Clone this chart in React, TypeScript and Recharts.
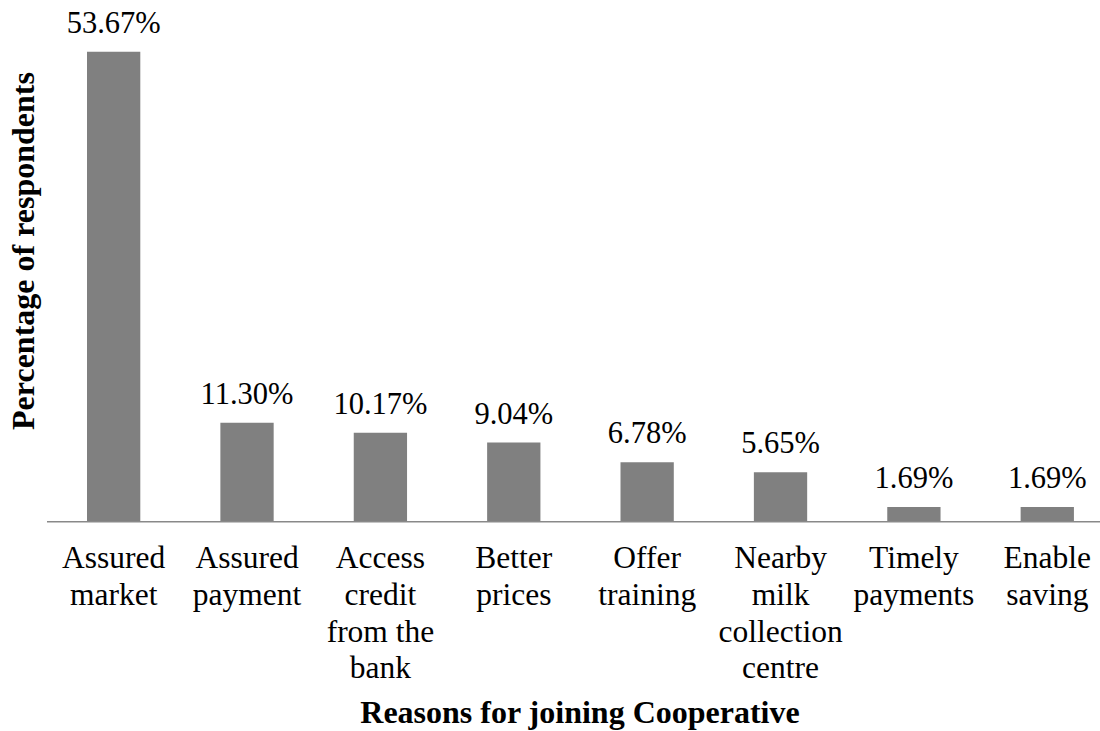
import React from 'react';
import { BarChart, Bar, XAxis, YAxis, LabelList } from 'recharts';

const categories = [
  'Assured market',
  'Assured payment',
  'Access credit from the bank',
  'Better prices',
  'Offer training',
  'Nearby milk collection centre',
  'Timely payments',
  'Enable saving',
];
const percentages = [53.67, 11.3, 10.17, 9.04, 6.78, 5.65, 1.69, 1.69];
const yDomain = [0, 55];

const xTitle = 'Reasons for joining Cooperative';
const yTitle = 'Percentage of respondents';

const FONT = 'Liberation Serif';
const tickStyle = { fontFamily: FONT, fontSize: 31.5, fontWeight: 400, fill: '#000' };
const valueStyle = { fontFamily: FONT, fontSize: 30.5, fontWeight: 400, fill: '#000' };
const titleStyle = { fontFamily: FONT, fontSize: 32, fontWeight: 700, fill: '#000' };

const data = categories.map((name, i) => ({ name, value: percentages[i] }));

// greedy word wrap measured with a canvas, so labels break like the original
let ctx: CanvasRenderingContext2D | null = null;
function wrap(label: string, maxWidth: number): string[] {
  if (!ctx) ctx = document.createElement('canvas').getContext('2d');
  if (!ctx) return [label];
  ctx.font = `31.5px ${FONT}`;
  const lines: string[] = [];
  let line = '';
  label.split(' ').forEach((word) => {
    const test = line ? `${line} ${word}` : word;
    if (line && ctx!.measureText(test).width > maxWidth) {
      lines.push(line);
      line = word;
    } else {
      line = test;
    }
  });
  if (line) lines.push(line);
  return lines;
}

const CategoryTick = ({ x, y, payload }: any) => {
  const lines = wrap(payload.value, 130);
  return (
    <g>
      {lines.map((l, i) => (
        <text key={i} x={x} y={y + 46.5 + i * 36.7} textAnchor="middle" style={tickStyle}>
          {l}
        </text>
      ))}
    </g>
  );
};

const ValueLabel = ({ x, y, width, value }: any) => (
  <text x={x + width / 2} y={y - 19} textAnchor="middle" style={valueStyle}>
    {`${Number(value).toFixed(2)}%`}
  </text>
);

export default function App() {
  return (
    <div
      style={{
        position: 'absolute',
        left: 0,
        top: 0,
        width: 1100,
        height: 731,
        overflow: 'hidden',
        background: '#fff',
        fontFamily: FONT,
      }}
    >
      <BarChart
        width={1114}
        height={731}
        data={data}
        margin={{ top: 40, right: 0, bottom: 0, left: 0 }}
      >
        <XAxis
          dataKey="name"
          height={209.3}
          interval={0}
          tickLine={false}
          tickSize={0}
          tickMargin={0}
          tick={<CategoryTick />}
          axisLine={{ stroke: '#898989', strokeWidth: 1.4 }}
          label={{
            content: () => (
              <text x={580} y={723} textAnchor="middle" style={titleStyle}>
                {xTitle}
              </text>
            ),
          }}
        />
        <YAxis
          width={47}
          domain={yDomain}
          axisLine={false}
          tickLine={false}
          tick={false}
          label={{
            content: () => (
              <text
                x={34}
                y={251}
                transform="rotate(-90, 34, 251)"
                textAnchor="middle"
                style={titleStyle}
              >
                {yTitle}
              </text>
            ),
          }}
        />
        <Bar dataKey="value" fill="#808080" barSize={53.3} isAnimationActive={false}>
          <LabelList dataKey="value" content={<ValueLabel />} />
        </Bar>
      </BarChart>
    </div>
  );
}
